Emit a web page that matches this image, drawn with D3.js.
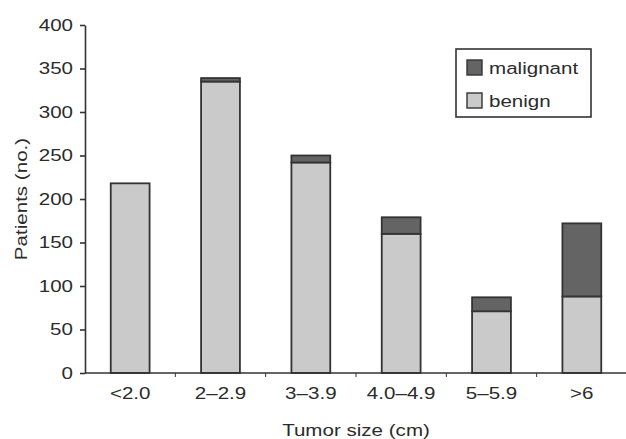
<!DOCTYPE html>
<html>
<head>
<meta charset="utf-8">
<script src="https://cdn.jsdelivr.net/npm/d3@7"></script>
<style>
  body { margin: 0; background: #fff; }
  text { font-family: "Liberation Sans", Arial, sans-serif; fill: #2b2b2b; }
</style>
</head>
<body>
<div id="chart"></div>
<script>
// data
const categories = ["<2.0", "2\u20132.9", "3\u20133.9", "4.0\u20134.9", "5\u20135.9", ">6"]
const benign = [218, 335, 242, 160, 71, 88]
const malignant = [0, 4, 8, 19, 16, 84]
const yTicks = [0, 50, 100, 150, 200, 250, 300, 350, 400]

const W = 626, H = 439
const plotLeft = 85, plotRight = 627, plotTop = 25, plotBottom = 373
const fontSize = 17
const stretch = 1.21   // the source type is wide

const svg = d3.select("#chart")
    .append("svg")
    .attr("width", W)
    .attr("height", H)

const rows = categories.map((c, i) => ({ cat: c, benign: benign[i], malignant: malignant[i] }))
const stacked = d3.stack().keys(["benign", "malignant"])(rows)
const colors = { benign: "#cacaca", malignant: "#646464" }

let x = d3.scaleBand()
    .domain(categories)
    .range([plotLeft, plotRight])
    .paddingInner(0.57)
    .paddingOuter(0.285)

let y = d3.scaleLinear()
    .domain([0, 400])
    .range([plotBottom, plotTop])

// bars
svg.append("g")
    .selectAll("g")
    .data(stacked)
    .enter()
    .append("g")
    .attr("fill", d => colors[d.key])
    .selectAll("rect")
    .data(d => d.filter(p => p[1] > p[0]))
    .enter()
    .append("rect")
    .attr("x", d => x(d.data.cat))
    .attr("width", x.bandwidth())
    .attr("y", d => y(d[1]))
    .attr("height", d => y(d[0]) - y(d[1]))
    .attr("stroke", "#333")
    .attr("stroke-width", 1.8)

// Y axis
let yAxis = d3.axisLeft(y).tickValues(yTicks).tickSize(5).tickSizeOuter(0)
const gy = svg.append("g")
    .attr("transform", "translate(" + plotLeft + ",0)")
    .call(yAxis)
gy.selectAll(".tick text")
    .attr("x", 0)
    .attr("transform", "translate(-12,0) scale(" + stretch + ",1)")
    .attr("font-size", fontSize)
    .attr("font-family", null)
    .attr("fill", null)

// X axis: labels under bars, ticks between the categories
let xAxis = d3.axisBottom(x).tickSize(0).tickSizeOuter(0)
const gx = svg.append("g")
    .attr("transform", "translate(0," + plotBottom + ")")
    .call(xAxis)
gx.select(".domain").attr("d", "M" + plotLeft + ",0H" + W)
gx.selectAll(".tick text")
    .attr("y", 14)
    .attr("transform", "scale(" + stretch + ",1)")
    .attr("font-size", fontSize)
    .attr("font-family", null)
    .attr("fill", null)
gx.selectAll(".sep")
    .data(categories.slice(1))
    .enter()
    .append("line")
    .attr("class", "sep")
    .attr("x1", d => x(d) - x.step() * x.paddingInner() / 2)
    .attr("x2", d => x(d) - x.step() * x.paddingInner() / 2)
    .attr("y1", 0)
    .attr("y2", 4)
    .attr("stroke", "#333")

svg.selectAll(".domain, .tick line")
    .attr("stroke", "#333")
    .attr("stroke-width", 1.6)

// axis titles
svg.append("text")
    .attr("text-anchor", "middle")
    .attr("transform", "translate(" + (plotLeft + plotRight) / 2 + ",436) scale(" + stretch + ",1)")
    .attr("font-size", fontSize)
    .text("Tumor size (cm)")

svg.append("text")
    .attr("text-anchor", "middle")
    .attr("transform", "translate(27," + (plotTop + plotBottom) / 2 + ") rotate(-90) scale(" + stretch + ",1)")
    .attr("font-size", fontSize)
    .text("Patients (no.)")

// legend
const legend = svg.append("g").attr("transform", "translate(456,49)")
legend.append("rect")
    .attr("width", 135)
    .attr("height", 68)
    .attr("fill", "#fff")
    .attr("stroke", "#333")
    .attr("stroke-width", 1.6)

const legendKeys = ["malignant", "benign"]
legendKeys.forEach((k, i) => {
    legend.append("rect")
        .attr("x", 11)
        .attr("y", 11 + i * 33)
        .attr("width", 15)
        .attr("height", 15)
        .attr("fill", colors[k])
        .attr("stroke", "#333")
        .attr("stroke-width", 1.4)
    legend.append("text")
        .attr("transform", "translate(33," + (25 + i * 33) + ") scale(" + stretch + ",1)")
        .attr("font-size", fontSize)
        .text(k)
})
</script>
</body>
</html>
